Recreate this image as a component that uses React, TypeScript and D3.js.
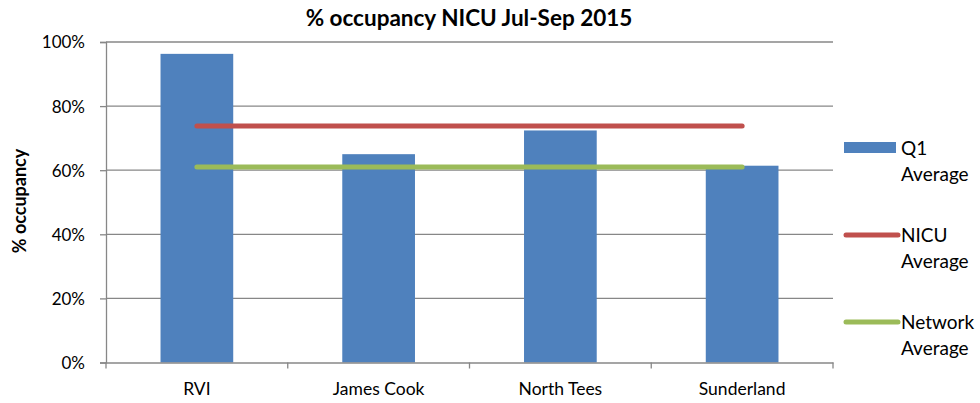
import * as d3 from "d3";
import React, { useEffect, useRef } from "react";

const categories = ["RVI", "James Cook", "North Tees", "Sunderland"];
const q1Average = [0.963, 0.65, 0.724, 0.614];
const nicuAverage = [0.738, 0.738, 0.738, 0.738];
const networkAverage = [0.61, 0.61, 0.61, 0.61];
const yTicks = [0, 0.2, 0.4, 0.6, 0.8, 1.0];
const legendItems = [
  { label: ["Q1", "Average"], kind: "bar", color: "#4f81bd" },
  { label: ["NICU", "Average"], kind: "line", color: "#c0504d" },
  { label: ["Network", "Average"], kind: "line", color: "#9bbb59" },
];

const width = 980;
const height = 403;
const font = "Lato, 'Open Sans', sans-serif";

const App = () => {
  const svgRef = useRef(null);

  useEffect(() => {
    const svg = d3.select(svgRef.current);
    svg.selectAll("*").remove();

    const left = 106;
    const right = 833;
    const top = 42;
    const bottom = 362.5;

    const x = d3.scaleBand().domain(categories).range([left, right]).paddingInner(0.6).paddingOuter(0.3);
    const xStep = d3.scaleBand().domain(categories).range([left, right]);
    const y = d3.scaleLinear().domain([0, 1]).range([bottom, top]);

    // gridlines
    svg.append("g")
      .selectAll("line")
      .data(yTicks.slice(1))
      .enter()
      .append("line")
      .attr("x1", left)
      .attr("x2", right)
      .attr("y1", (d) => y(d))
      .attr("y2", (d) => y(d))
      .attr("stroke", "#878787")
      .attr("stroke-width", 1.3);

    // bars
    svg.append("g")
      .selectAll("rect")
      .data(q1Average)
      .enter()
      .append("rect")
      .attr("x", (d, i) => x(categories[i]))
      .attr("y", (d) => y(d))
      .attr("width", x.bandwidth())
      .attr("height", (d) => bottom - y(d))
      .attr("fill", "#4f81bd");

    // average lines
    const line = d3.line()
      .x((d, i) => xStep(categories[i]) + xStep.bandwidth() / 2)
      .y((d) => y(d));
    [[nicuAverage, "#c0504d"], [networkAverage, "#9bbb59"]].forEach(([vals, color]) => {
      svg.append("path")
        .attr("d", line(vals))
        .attr("fill", "none")
        .attr("stroke", color)
        .attr("stroke-width", 5)
        .attr("stroke-linecap", "round");
    });

    // y axis
    const yAxis = d3.axisLeft(y).tickValues(yTicks).tickFormat(d3.format(".0%")).tickSize(6).tickPadding(15);
    const yg = svg.append("g").attr("transform", `translate(${left},0)`).call(yAxis);
    yg.selectAll("path, line").attr("stroke", "#878787").attr("stroke-width", 1.3);
    yg.selectAll("text").attr("font-family", font).attr("font-size", 17).attr("fill", "#000").attr("dy", "0.35em");

    // x axis
    const xAxis = d3.axisBottom(xStep).tickSize(0).tickPadding(20);
    const xg = svg.append("g").attr("transform", `translate(0,${bottom})`).call(xAxis);
    xg.select(".domain").attr("stroke", "#878787").attr("stroke-width", 1.3);
    xg.selectAll("text").attr("font-family", font).attr("font-size", 17.5).attr("fill", "#000");
    const boundaries = d3.range(categories.length + 1).map((i) => left + i * xStep.step());
    xg.selectAll(".bound")
      .data(boundaries)
      .enter()
      .append("line")
      .attr("x1", (d) => d)
      .attr("x2", (d) => d)
      .attr("y1", 0)
      .attr("y2", 6)
      .attr("stroke", "#878787")
      .attr("stroke-width", 1.3);

    // title
    svg.append("text")
      .attr("x", 469)
      .attr("y", 26)
      .attr("text-anchor", "middle")
      .attr("font-family", font)
      .attr("font-weight", "bold")
      .attr("font-size", 22.5)
      .text("% occupancy NICU Jul-Sep 2015");

    // y axis title
    svg.append("text")
      .attr("transform", `translate(26,201) rotate(-90)`)
      .attr("text-anchor", "middle")
      .attr("font-family", font)
      .attr("font-weight", "bold")
      .attr("font-size", 18)
      .text("% occupancy");

    // legend
    const legendY = [148, 235, 322];
    legendItems.forEach((item, i) => {
      const g = svg.append("g").attr("transform", `translate(844,${legendY[i]})`);
      if (item.kind === "bar") {
        g.append("rect").attr("x", 0).attr("y", -6).attr("width", 52).attr("height", 11).attr("fill", item.color);
      } else {
        g.append("line").attr("x1", 2).attr("x2", 54).attr("y1", 0).attr("y2", 0)
          .attr("stroke", item.color).attr("stroke-width", 5).attr("stroke-linecap", "round");
      }
      item.label.forEach((t, j) => {
        g.append("text")
          .attr("x", 57)
          .attr("y", 7 + j * 26)
          .attr("font-family", font)
          .attr("font-size", 19)
          .text(t);
      });
    });
  }, []);

  return <svg ref={svgRef} width={width} height={height} style={{ position: "absolute", left: 0, top: 0, background: "#fff" }} />;
};

export default App;
